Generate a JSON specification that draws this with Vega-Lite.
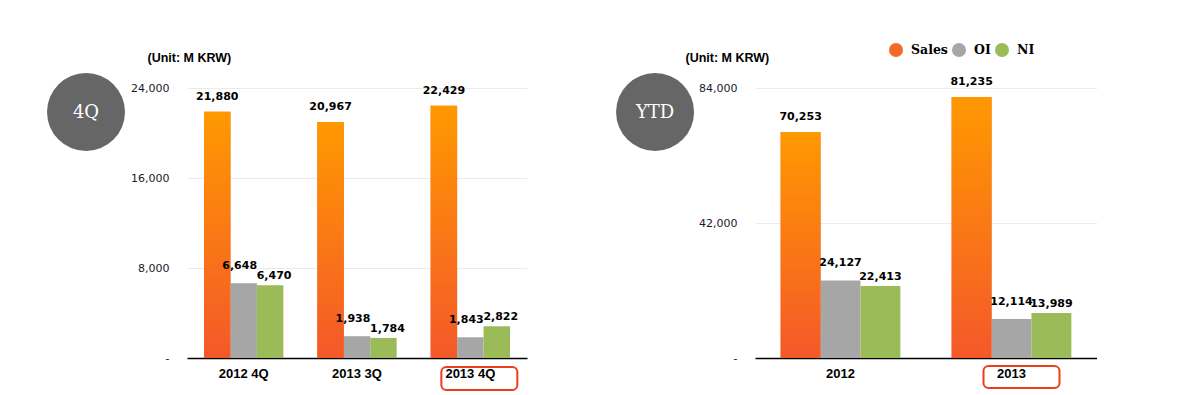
{
  "$schema": "https://vega.github.io/schema/vega-lite/v6.json",
  "background": "white",
  "padding": {"left": 0, "top": 43, "right": 0, "bottom": 0},
  "autosize": {"type": "pad"},
  "spacing": 15,
  "bounds": "flush",
  "datasets": {
    "quarter": [
      {"period": "2012 4Q", "series": "Sales", "value": 21880},
      {"period": "2012 4Q", "series": "OI", "value": 6648},
      {"period": "2012 4Q", "series": "NI", "value": 6470},
      {"period": "2013 3Q", "series": "Sales", "value": 20967},
      {"period": "2013 3Q", "series": "OI", "value": 1938},
      {"period": "2013 3Q", "series": "NI", "value": 1784},
      {"period": "2013 4Q", "series": "Sales", "value": 22429},
      {"period": "2013 4Q", "series": "OI", "value": 1843},
      {"period": "2013 4Q", "series": "NI", "value": 2822}
    ],
    "ytd": [
      {"period": "2012", "series": "Sales", "value": 70253},
      {"period": "2012", "series": "OI", "value": 24127},
      {"period": "2012", "series": "NI", "value": 22413},
      {"period": "2013", "series": "Sales", "value": 81235},
      {"period": "2013", "series": "OI", "value": 12114},
      {"period": "2013", "series": "NI", "value": 13989}
    ],
    "badgeL": [{"label": "4Q"}],
    "badgeR": [{"label": "YTD"}]
  },
  "config": {
    "view": {"stroke": null},
    "axisY": {
      "domain": false, "ticks": false, "labelPadding": 18, "grid": true, "gridColor": "#EAEAEA", "gridWidth": 1,
      "labelFont": "DejaVu Sans", "labelFontSize": 11, "labelColor": "#1A1A2A",
      "titleAngle": 0, "titleAlign": "left", "titleBaseline": "alphabetic", "titleFont": "Liberation Sans",
      "titleFontWeight": "bold", "titleFontSize": 12.5, "titleColor": "#000000", "titleY": -27
    },
    "axisX": {
      "title": null, "domain": true, "domainColor": "#000000", "domainWidth": 1.5, "ticks": false, "labelAngle": 0,
      "labelFont": "Liberation Sans", "labelFontWeight": "bold", "labelFontSize": 13, "labelColor": "#000000",
      "labelPadding": 9, "grid": false
    },
    "text": {"font": "DejaVu Sans", "fontWeight": "bold", "fontSize": 11, "color": "#000000", "baseline": "alphabetic"}
  },
  "resolve": {
    "scale": {"x": "independent", "y": "independent", "color": "independent", "xOffset": "independent"},
    "legend": {"color": "independent"}
  },
  "hconcat": [
    {
      "width": 172,
      "height": 48,
      "data": {"name": "badgeL"},
      "layer": [
        {"mark": {"type": "point", "shape": "circle", "filled": true, "size": 6084, "color": "#666666", "opacity": 1, "strokeWidth": 0}, "encoding": {}},
        {"mark": {"type": "text", "font": "DejaVu Serif", "fontWeight": "normal", "fontSize": 18, "color": "#FFFFFF", "baseline": "middle", "align": "center", "dy": 1}, "encoding": {"text": {"field": "label"}}}
      ]
    },
    {
      "width": 340,
      "height": 270,
      "data": {"name": "quarter"},
      "encoding": {
        "x": {"field": "period", "type": "nominal", "sort": null, "scale": {"paddingInner": 0.3, "paddingOuter": 0.15}, "axis": {}},
        "y": {"field": "value", "type": "quantitative", "scale": {"domain": [0, 24000]},
          "axis": {"values": [0, 8000, 16000, 24000], "labelExpr": "datum.value === 0 ? '-' : format(datum.value, ',')", "title": "(Unit: M KRW)", "titleX": -40}}
      },
      "layer": [
        {
          "mark": {"type": "bar"},
          "encoding": {
            "xOffset": {"field": "series", "type": "nominal", "scale": {"domain": ["Sales", "OI", "NI"], "paddingInner": 0, "paddingOuter": 0}},
            "color": {"field": "series", "type": "nominal", "scale": {"domain": ["Sales", "OI", "NI"], "range": ["#F36A26", "#A6A6A6", "#9BBB59"]}, "legend": null}
          }
        },
        {
          "transform": [{"filter": "datum.series === 'Sales'"}],
          "mark": {"type": "bar", "color": {"gradient": "linear", "x1": 0, "y1": 0, "x2": 0, "y2": 1, "stops": [{"offset": 0, "color": "#FF9900"}, {"offset": 1, "color": "#F4582A"}]}},
          "encoding": {"xOffset": {"field": "series", "type": "nominal", "scale": {"domain": ["Sales", "OI", "NI"]}}}
        },
        {
          "transform": [{"filter": "datum.series === 'Sales'"}],
          "mark": {"type": "text", "dy": -12},
          "encoding": {"xOffset": {"field": "series", "type": "nominal"}, "text": {"field": "value", "type": "quantitative", "format": ","}}
        },
        {
          "transform": [{"filter": "datum.series === 'OI'"}],
          "mark": {"type": "text", "dy": -14, "dx": -4},
          "encoding": {"xOffset": {"field": "series", "type": "nominal"}, "text": {"field": "value", "type": "quantitative", "format": ","}}
        },
        {
          "transform": [{"filter": "datum.series === 'NI'"}],
          "mark": {"type": "text", "dy": -6, "dx": 4},
          "encoding": {"xOffset": {"field": "series", "type": "nominal"}, "text": {"field": "value", "type": "quantitative", "format": ","}}
        },
        {
          "transform": [{"filter": "datum.series === 'Sales' && datum.period === '2013 4Q'"}],
          "mark": {"type": "bar", "fill": "transparent", "stroke": "#E8401C", "strokeWidth": 2, "cornerRadius": 5, "width": 76, "xOffset": 9},
          "encoding": {"y": {"datum": -800}, "y2": {"datum": -2845}}
        }
      ]
    },
    {
      "width": 198,
      "height": 48,
      "data": {"name": "badgeR"},
      "encoding": {"x": {"field": "label", "type": "nominal", "scale": {"type": "point", "align": 0.571}, "axis": null}},
      "layer": [
        {"mark": {"type": "point", "shape": "circle", "filled": true, "size": 6084, "color": "#666666", "opacity": 1, "strokeWidth": 0}, "encoding": {}},
        {"mark": {"type": "text", "font": "DejaVu Serif", "fontWeight": "normal", "fontSize": 18, "color": "#FFFFFF", "baseline": "middle", "align": "center", "dy": 1}, "encoding": {"text": {"field": "label"}}}
      ]
    },
    {
      "width": 342,
      "height": 270,
      "data": {"name": "ytd"},
      "encoding": {
        "x": {"field": "period", "type": "nominal", "sort": null, "scale": {"paddingInner": 0.3, "paddingOuter": 0.15}, "axis": {}},
        "y": {"field": "value", "type": "quantitative", "scale": {"domain": [0, 84000]},
          "axis": {"values": [0, 42000, 84000], "labelExpr": "datum.value === 0 ? '-' : format(datum.value, ',')", "title": "(Unit: M KRW)", "titleX": -70}}
      },
      "layer": [
        {
          "mark": {"type": "bar"},
          "encoding": {
            "xOffset": {"field": "series", "type": "nominal", "scale": {"domain": ["Sales", "OI", "NI"], "paddingInner": 0, "paddingOuter": 0}},
            "color": {"field": "series", "type": "nominal", "scale": {"domain": ["Sales", "OI", "NI"], "range": ["#F36A26", "#A6A6A6", "#9BBB59"]},
              "legend": {"orient": "none", "legendX": 134, "legendY": -45, "direction": "horizontal", "title": null,
                "symbolType": "circle", "symbolSize": 196, "symbolStrokeWidth": 0, "symbolOpacity": 1,
                "labelFont": "DejaVu Serif", "labelFontWeight": "bold", "labelFontSize": 12.5, "labelColor": "#000000",
                "labelOffset": 8, "columnPadding": 4, "padding": 0}}
          }
        },
        {
          "transform": [{"filter": "datum.series === 'Sales'"}],
          "mark": {"type": "bar", "color": {"gradient": "linear", "x1": 0, "y1": 0, "x2": 0, "y2": 1, "stops": [{"offset": 0, "color": "#FF9900"}, {"offset": 1, "color": "#F4582A"}]}},
          "encoding": {"xOffset": {"field": "series", "type": "nominal", "scale": {"domain": ["Sales", "OI", "NI"]}}}
        },
        {
          "transform": [{"filter": "datum.series === 'Sales'"}],
          "mark": {"type": "text", "dy": -12},
          "encoding": {"xOffset": {"field": "series", "type": "nominal"}, "text": {"field": "value", "type": "quantitative", "format": ","}}
        },
        {
          "transform": [{"filter": "datum.series === 'OI'"}],
          "mark": {"type": "text", "dy": -14},
          "encoding": {"xOffset": {"field": "series", "type": "nominal"}, "text": {"field": "value", "type": "quantitative", "format": ","}}
        },
        {
          "transform": [{"filter": "datum.series === 'NI'"}],
          "mark": {"type": "text", "dy": -6},
          "encoding": {"xOffset": {"field": "series", "type": "nominal"}, "text": {"field": "value", "type": "quantitative", "format": ","}}
        },
        {
          "transform": [{"filter": "datum.series === 'Sales' && datum.period === '2013'"}],
          "mark": {"type": "bar", "fill": "transparent", "stroke": "#E8401C", "strokeWidth": 2, "cornerRadius": 5, "width": 76, "xOffset": 10},
          "encoding": {"y": {"datum": -2490}, "y2": {"datum": -9330}}
        }
      ]
    }
  ]
}
